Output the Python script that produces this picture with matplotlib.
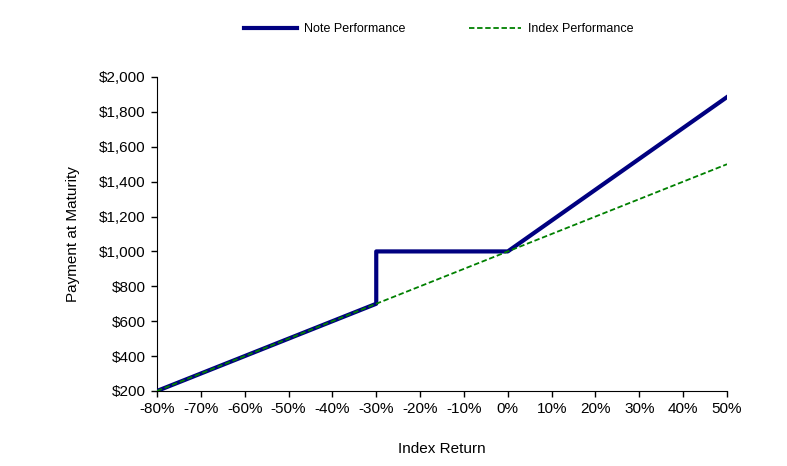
import numpy as np
import matplotlib.pyplot as plt
from matplotlib.ticker import FuncFormatter

# index return (fraction) and payoffs
idx_ret = [-0.8, -0.7, -0.6, -0.5, -0.4, -0.3, -0.3, -0.2, -0.1, 0.0, 0.1, 0.2, 0.3, 0.4, 0.5]
note_pay = [200, 300, 400, 500, 600, 700, 1000, 1000, 1000, 1000, 1177, 1354, 1531, 1708, 1885]
index_x = [-0.8, 0.5]
index_pay = [200, 1500]

x_ticks = np.arange(-0.8, 0.51, 0.1)
y_ticks = np.arange(200, 2001, 200)

plt.rcParams['font.family'] = ['Liberation Sans', 'DejaVu Sans']

fig = plt.figure(figsize=(7.87, 4.66), dpi=100)
ax = fig.add_axes([0.1995, 0.161, 0.7243, 0.6738])

ax.plot(idx_ret, note_pay, color="#000080", lw=3, label="Note Performance", zorder=3)
ax.plot(index_x, index_pay, color="#008000", lw=1.3, ls=(0, (3, 1.5)), label="Index Performance", zorder=4)

ax.set_xlim(-0.8, 0.5)
ax.set_ylim(200, 2000)
ax.set_xticks(x_ticks)
ax.set_yticks(y_ticks)
ax.xaxis.set_major_formatter(FuncFormatter(lambda v, p: "{:.0f}%".format(round(v * 100))))
ax.yaxis.set_major_formatter(FuncFormatter(lambda v, p: "${:,.0f}".format(v)))
ax.tick_params(labelsize=11, length=4, width=1, direction="out", pad=4)
for s in ["top", "right"]:
    ax.spines[s].set_visible(False)

ax.set_xlabel("Index Return", fontsize=11, labelpad=19)
ax.set_ylabel("Payment at Maturity", fontsize=11, labelpad=14)

fig.legend(loc="center", bbox_to_anchor=(0.558, 0.937), ncol=2, frameon=False,
           fontsize=9, handlelength=4.2, handletextpad=0.55, columnspacing=5.1)

plt.savefig("out.png", dpi=100)
